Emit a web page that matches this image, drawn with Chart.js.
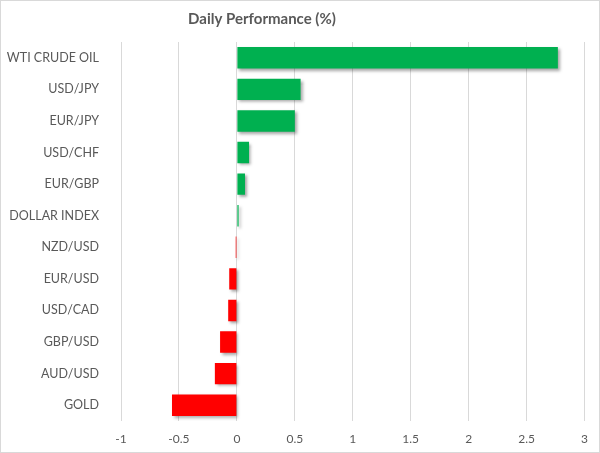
<!DOCTYPE html>
<html lang="en">
<head>
  <meta charset="UTF-8">
  <title>Daily Performance (%)</title>
  <script src="https://cdn.jsdelivr.net/npm/chart.js"></script>
  <style>
    body { margin: 0; background: #fff; }
    .wrap { width: 598px; height: 451px; border: 1px solid #d9d9d9; }
  </style>
</head>
<body>
<div class="wrap">
  <canvas class="chart" width="598" height="451"></canvas>
</div>

<script>
  // данные
  const categories = ['WTI CRUDE OIL', 'USD/JPY', 'EUR/JPY', 'USD/CHF', 'EUR/GBP', 'DOLLAR INDEX',
                      'NZD/USD', 'EUR/USD', 'USD/CAD', 'GBP/USD', 'AUD/USD', 'GOLD'];
  const performance = [2.77, 0.55, 0.5, 0.105, 0.07, 0.015, -0.01, -0.066, -0.075, -0.145, -0.19, -0.56];
  const xMin = -1;
  const xMax = 3;
  const xStep = 0.5;
  const titleText = 'Daily Performance (%)';

  const GREEN = '#00B050';
  const RED = '#FF0000';
  const TEXT = '#595959';

  // тень под столбиками
  const barShadow = {
    id: 'barShadow',
    beforeDatasetsDraw(chart) {
      const ctx = chart.ctx;
      ctx.save();
      ctx.shadowColor = 'rgba(0, 0, 0, 0.35)';
      ctx.shadowOffsetX = 2;
      ctx.shadowOffsetY = 2;
      ctx.shadowBlur = 3;
    },
    afterDatasetsDraw(chart) {
      chart.ctx.restore();
    }
  };

  // заголовок (в Excel он смещён влево от центра)
  const sideTitle = {
    id: 'sideTitle',
    afterDraw(chart) {
      const ctx = chart.ctx;
      ctx.save();
      ctx.fillStyle = TEXT;
      ctx.font = 'bold 15px Lato';
      ctx.textAlign = 'center';
      ctx.textBaseline = 'middle';
      ctx.fillText(titleText, 261, 18);
      ctx.restore();
    }
  };

  new Chart(document.querySelector('.chart'), {
    type: 'bar',
    data: {
      labels: categories,
      datasets: [{
        data: performance,
        backgroundColor: ctx => (ctx.raw >= 0 ? GREEN : RED),
        categoryPercentage: 1,
        barPercentage: 0.68
      }]
    },
    options: {
      indexAxis: 'y',
      responsive: false,
      animation: false,
      layout: { padding: { left: 0, right: 8, top: 41, bottom: 0 } },
      plugins: {
        legend: { display: false },
        tooltip: { enabled: false }
      },
      scales: {
        x: {
          min: xMin,
          max: xMax,
          ticks: {
            stepSize: xStep,
            color: TEXT,
            font: { family: 'Lato', size: 12 },
            padding: 11,
            callback: v => String(v)
          },
          grid: { color: '#d9d9d9', drawTicks: false },
          border: { display: false },
          afterFit: scale => { scale.height = 31; }
        },
        y: {
          ticks: {
            color: TEXT,
            font: { family: 'Lato', size: 12.5 },
            padding: 14
          },
          grid: { display: false },
          border: { display: false },
          afterFit: scale => { scale.width = 120; }
        }
      }
    },
    plugins: [barShadow, sideTitle]
  });
</script>
</body>
</html>
